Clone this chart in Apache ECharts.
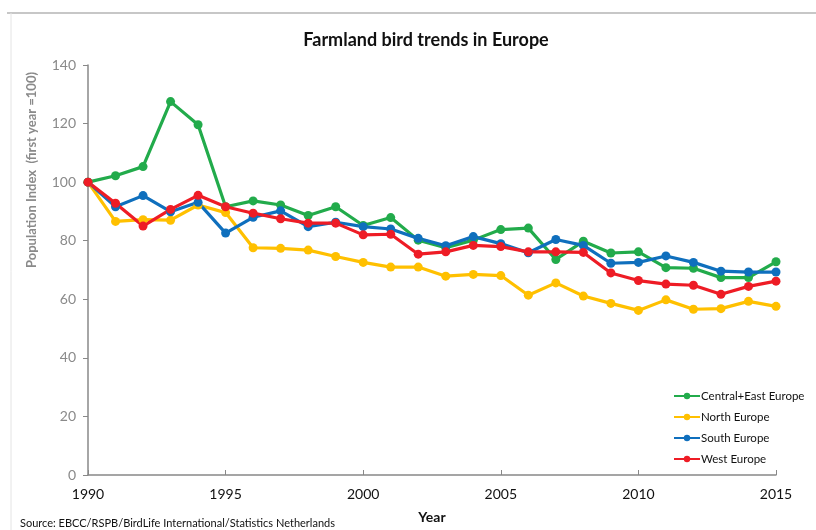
<!DOCTYPE html>
<html>
<head>
<meta charset="utf-8">
<script src="https://cdn.jsdelivr.net/npm/echarts@6/dist/echarts.min.js"></script>
<style>
  html, body { margin: 0; padding: 0; background: #fff; }
  #chart { width: 816px; height: 530px; }
</style>
</head>
<body>
<div id="chart"></div>
<script>
// Farmland bird population indices by European region (first year = 100)
const years = [1990, 1991, 1992, 1993, 1994, 1995, 1996, 1997, 1998, 1999, 2000, 2001, 2002,
               2003, 2004, 2005, 2006, 2007, 2008, 2009, 2010, 2011, 2012, 2013, 2014, 2015];

const centralEast = [100, 102.2, 105.3, 127.5, 119.6, 91.6, 93.6, 92.2, 88.6, 91.6, 85.2, 87.9, 80.2,
                     77.6, 80.2, 83.8, 84.3, 73.6, 79.8, 75.8, 76.2, 70.8, 70.6, 67.4, 67.4, 72.8];
const north       = [100, 86.6, 87.2, 87.0, 92.2, 89.6, 77.6, 77.4, 76.8, 74.6, 72.6, 71.0, 71.0,
                     67.9, 68.5, 68.1, 61.4, 65.6, 61.1, 58.6, 56.2, 59.8, 56.6, 56.8, 59.3, 57.6];
const south       = [100, 91.6, 95.4, 89.9, 93.1, 82.6, 88.0, 90.2, 84.8, 86.3, 84.8, 84.0, 80.8,
                     78.3, 81.4, 79.0, 75.9, 80.4, 78.4, 72.3, 72.6, 74.8, 72.6, 69.6, 69.3, 69.3];
const west        = [100, 92.8, 85.0, 90.7, 95.5, 91.6, 89.4, 87.5, 86.0, 86.0, 82.0, 82.2, 75.4,
                     76.2, 78.4, 78.0, 76.2, 76.2, 76.0, 69.0, 66.4, 65.2, 64.8, 61.7, 64.4, 66.2];

const seriesNames = ['Central+East Europe', 'North Europe', 'South Europe', 'West Europe'];
const seriesValues = [centralEast, north, south, west];
const seriesColors = ['#22ab4b', '#ffc000', '#0f6fbd', '#ee1c25'];

const yTicks = [0, 20, 40, 60, 80, 100, 120, 140];
const xTicks = [1990, 1995, 2000, 2005, 2010, 2015];

const FONT = 'Lato, "Open Sans", sans-serif';

const chart = echarts.init(document.getElementById('chart'), null, { renderer: 'canvas' });

const series = seriesNames.map((name, i) => ({
  name: name,
  type: 'line',
  data: years.map((y, j) => [y, seriesValues[i][j]]),
  symbol: 'circle',
  symbolSize: 9,
  showSymbol: true,
  lineStyle: { width: 3.2, color: seriesColors[i] },
  itemStyle: { color: seriesColors[i] },
  emphasis: { disabled: true },
  animation: false
}));

chart.setOption({
  animation: false,
  backgroundColor: '#ffffff',
  title: {
    text: 'Farmland bird trends in Europe',
    left: 421,
    textAlign: 'center',
    top: 26,
    textStyle: { fontFamily: FONT, fontSize: 18, fontWeight: 'bold', color: '#111' }
  },
  grid: { left: 88, right: 40, top: 65, bottom: 55 },
  legend: {
    orient: 'vertical',
    left: 668,
    top: 385,
    itemWidth: 26,
    itemHeight: 8,
    itemGap: 9,
    data: seriesNames,
    textStyle: { fontFamily: FONT, fontSize: 11.5, color: '#111', padding: [0, 0, 0, -4] }
  },
  xAxis: {
    type: 'value',
    min: years[0],
    max: years[years.length - 1],
    interval: 5,
    axisLine: { show: true, lineStyle: { color: '#888', width: 1.5 } },
    axisTick: { show: true, inside: true, length: 5, lineStyle: { color: '#888' } },
    splitLine: { show: false },
    axisLabel: {
      fontFamily: FONT, fontSize: 14, color: '#111', margin: 12,
      formatter: v => (xTicks.includes(v) ? String(v) : '')
    }
  },
  yAxis: {
    type: 'value',
    min: yTicks[0],
    max: yTicks[yTicks.length - 1],
    interval: 20,
    axisLine: { show: true, lineStyle: { color: '#888', width: 1.5 } },
    axisTick: { show: true, inside: false, length: 5, lineStyle: { color: '#888' } },
    splitLine: { show: false },
    axisLabel: { fontFamily: FONT, fontSize: 14, color: '#8a8a8a', margin: 12 }
  },
  graphic: [
    { type: 'line', shape: { x1: 7, y1: 13, x2: 816, y2: 13 }, style: { stroke: '#8f8f8f', lineWidth: 1.2 } },
    { type: 'line', shape: { x1: 11, y1: 13, x2: 11, y2: 530 }, style: { stroke: '#e4e4e4', lineWidth: 1 } },
    {
      type: 'text', x: 32, y: 170, rotation: Math.PI / 2,
      style: {
        text: 'Population Index  (first year =100)',
        fontFamily: FONT, fontSize: 13, fontWeight: 'bold', fill: '#8a8a8a',
        textAlign: 'center', textVerticalAlign: 'middle'
      }
    },
    {
      type: 'text', x: 432, y: 517,
      style: { text: 'Year', fontFamily: FONT, fontSize: 14, fontWeight: 'bold', fill: '#111',
               textAlign: 'center', textVerticalAlign: 'middle' }
    },
    {
      type: 'text', x: 20, y: 523,
      style: { text: 'Source: EBCC/RSPB/BirdLife International/Statistics Netherlands',
               fontFamily: FONT, fontSize: 11, fill: '#111', textAlign: 'left', textVerticalAlign: 'middle' }
    }
  ],
  series: series
});
</script>
</body>
</html>
